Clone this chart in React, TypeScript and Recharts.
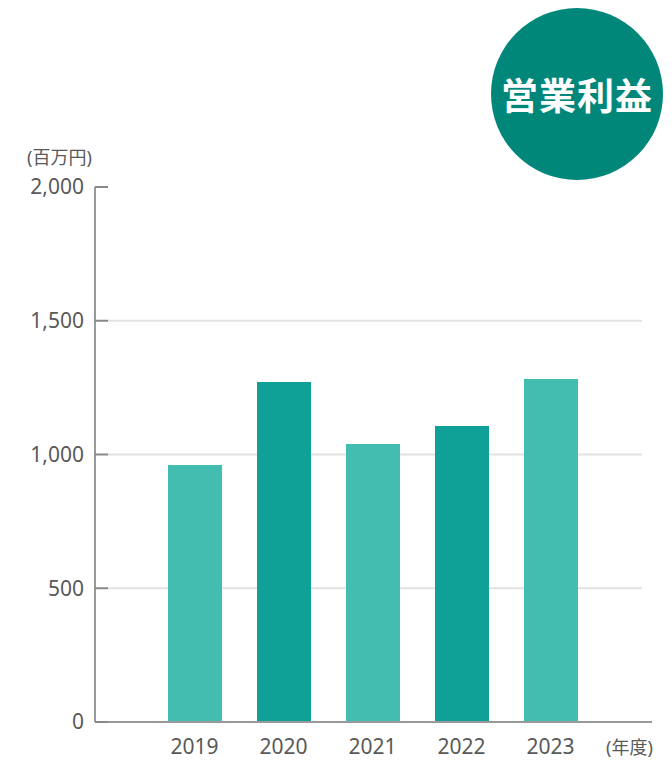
import React from "react";
import { BarChart, Bar, XAxis, YAxis, CartesianGrid, Cell } from "recharts";

const years = ["2019", "2020", "2021", "2022", "2023"];
const operatingProfit = [961, 1271, 1039, 1107, 1282];
const yTicks = [0, 500, 1000, 1500, 2000];

const LIGHT = "#44bdb1";
const DARK = "#0fa097";
const TEXT = "#595959";
const AXIS = "#999999";
const FONT = "'Noto Sans', 'Noto Sans CJK JP', sans-serif";

const data = years.map((y, i) => ({ year: y, value: operatingProfit[i] }));

const TOP = 187;
const BOTTOM = 722;

function YTick(props: any) {
  const { x, y, payload } = props;
  return (
    <g>
      <line x1={x} x2={x + 13} y1={y} y2={y} stroke="#888" strokeWidth={2} />
      <text
        x={x - 11}
        y={y}
        dy="0.355em"
        textAnchor="end"
        fill={TEXT}
        fontSize={21}
        fontFamily={FONT}
      >
        {payload.value.toLocaleString("en-US")}
      </text>
    </g>
  );
}

function GridLine(props: any) {
  const { x1, x2, y1, y2 } = props;
  // no grid at the top and bottom of the plot
  if (y1 <= TOP + 1 || y1 >= BOTTOM - 1) return <g />;
  return <line x1={x1 + 13} x2={x2 - 10} y1={y1} y2={y2} stroke="#e2e2e2" strokeWidth={2} />;
}

export default function App() {
  return (
    <div style={{ position: "absolute", left: 0, top: 0, width: 672, height: 760, background: "#fff", fontFamily: FONT }}>
      <BarChart
        width={672}
        height={760}
        data={data}
        margin={{ top: TOP, right: 20, bottom: 0, left: 0 }}
      >
        <CartesianGrid vertical={false} horizontal={GridLine} />
        <XAxis
          dataKey="year"
          height={38}
          padding={{ left: 55, right: 57 }}
          axisLine={{ stroke: AXIS, strokeWidth: 2 }}
          tickLine={false}
          tickSize={0}
          tickMargin={17}
          tick={{ fill: TEXT, fontSize: 21, fontFamily: FONT }}
        />
        <YAxis
          width={95}
          domain={[0, 2000]}
          ticks={yTicks}
          interval={0}
          axisLine={{ stroke: AXIS, strokeWidth: 2 }}
          tickLine={false}
          tickSize={0}
          tickMargin={0}
          tick={<YTick />}
        />
        <Bar dataKey="value" barSize={54} isAnimationActive={false}>
          {data.map((d, i) => (
            <Cell key={d.year} fill={i % 2 === 0 ? LIGHT : DARK} />
          ))}
        </Bar>
      </BarChart>
      <div style={{ position: "absolute", left: 27, top: 143, fontSize: 18, color: TEXT, whiteSpace: "nowrap" }}>
        (百万円)
      </div>
      <div style={{ position: "absolute", left: 606, top: 733, fontSize: 18, color: TEXT, whiteSpace: "nowrap" }}>
        (年度)
      </div>
      <div
        style={{
          position: "absolute",
          left: 491,
          top: 8,
          width: 172,
          height: 172,
          borderRadius: "50%",
          background: "#00877a",
          color: "#fff",
          display: "flex",
          alignItems: "center",
          justifyContent: "center",
          fontSize: 37,
          fontWeight: 700,
          fontFamily: "'Noto Sans CJK JP', sans-serif",
          letterSpacing: 1,
        }}
      >
        営業利益
      </div>
    </div>
  );
}
